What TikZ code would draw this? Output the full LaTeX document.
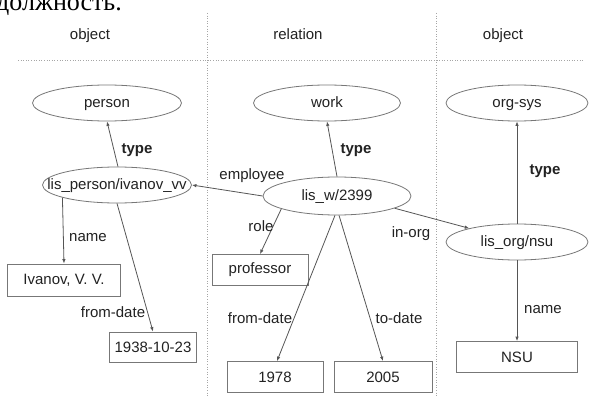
\documentclass[tikz,border=0pt]{standalone}
\usepackage{fontspec}
\setmainfont{Liberation Sans}
\newfontfamily\cyrserif{Liberation Serif}
\usetikzlibrary{shapes.geometric,arrows.meta}
\definecolor{txt}{HTML}{222222}
\definecolor{ln}{HTML}{555555}
\definecolor{bd}{HTML}{777777}
\tikzset{
  lbl/.style={font=\fontsize{15}{17}\selectfont, text=txt, inner sep=0pt, text height=11pt, text depth=3pt},
  bl/.style={lbl, font=\fontsize{15}{17}\selectfont\bfseries},
  ell/.style={ellipse, draw=bd, line width=0.8pt, minimum height=36pt, inner sep=0pt},
  box/.style={rectangle, draw=bd, line width=0.8pt, minimum height=31pt, inner sep=0pt, font=\fontsize{15}{17}\selectfont, text=txt},
  arr/.style={draw=ln, line width=0.8pt, -{Latex[length=4.5pt,width=3.5pt]}},
  sep/.style={draw=gray!70, line width=0.6pt, dotted}
}
\begin{document}
\begin{tikzpicture}[x=1pt,y=-1pt]
\fill[white] (0,0) rectangle (592,396);
\useasboundingbox (0,0) rectangle (592,396);
\begin{scope}
\clip (0,0) rectangle (592,396);
\node[anchor=base west, inner sep=0pt, font=\cyrserif\fontsize{26}{28}\selectfont] (ru) at (-4,11) {должность.};
\end{scope}
% separators
\coordinate (v1t) at (207,13); \coordinate (v1b) at (207,396);
\coordinate (v2t) at (436,13); \coordinate (v2b) at (436,396);
\coordinate (hl) at (18,60); \coordinate (hr) at (583,60);
\draw[sep] (v1t) -- (v1b);
\draw[sep] (v2t) -- (v2b);
\draw[sep] (hl) -- (hr);
% headers
\node[lbl] (h1) at (90,36) {object};
\node[lbl] (h2) at (298,36) {relation};
\node[lbl] (h3) at (503,36) {object};
% ellipses
\node[ell, minimum width=149pt, label={[lbl]center:person}] (person) at (107,103) {};
\node[ell, minimum width=147pt, label={[lbl]center:work}] (work) at (327,103) {};
\node[ell, minimum width=142pt, label={[lbl]center:org-sys}] (orgsys) at (517,103) {};
\node[ell, minimum width=149pt, label={[lbl]center:lis\_person/ivanov\_vv}] (lp) at (117,185) {};
\node[ell, minimum width=148pt, minimum height=38pt, label={[lbl]center:lis\_w/2399}] (lw) at (337,196) {};
\node[ell, minimum width=142pt, label={[lbl]center:lis\_org/nsu}] (lo) at (517,242) {};
% boxes
\node[box, minimum width=113pt, minimum height=32pt] (ivanov) at (64,280) {Ivanov, V. V.};
\node[box, minimum width=87pt, minimum height=30pt] (d1938) at (153,347) {1938-10-23};
\node[box, minimum width=96pt] (prof) at (260,270) {professor};
\node[box, minimum width=96pt] (y1978) at (275,377) {1978};
\node[box, minimum width=98pt] (y2005) at (383,377) {2005};
\node[box, minimum width=121pt] (nsu) at (517,357) {NSU};
% connectors
\draw[arr] (lp.87) -- (person.south);
\draw[arr] (lw.north) -- (work.south);
\draw[arr] (lo.north) -- (orgsys.south);
\draw[arr] (lw.west) -- (lp.east);
\draw[arr] (lw.-12) -- (lo.164);
\draw[arr] (lw.193) -- (prof.north);
\draw[arr] (lw.-96) -- ([xshift=2pt]y1978.north);
\draw[arr] (lw.-84) -- (y2005.north);
\draw[arr] (lp.193) -- (ivanov.north);
\draw[arr] (lp.south) -- (d1938.north);
\draw[arr] (lo.south) -- (nsu.north);
% labels
\node[bl] (t1) at (137,149) {type};
\node[bl] (t2) at (356,149) {type};
\node[bl] (t3) at (545,170) {type};
\node[lbl] (l1) at (252,175) {employee};
\node[lbl] (l2) at (411,233) {in-org};
\node[lbl] (l3) at (261,227) {role};
\node[lbl] (l4) at (88,237) {name};
\node[lbl] (l5) at (113,313) {from-date};
\node[lbl] (l6) at (260,319) {from-date};
\node[lbl] (l7) at (399,319) {to-date};
\node[lbl] (l8) at (543,309) {name};
\end{tikzpicture}
\end{document}
